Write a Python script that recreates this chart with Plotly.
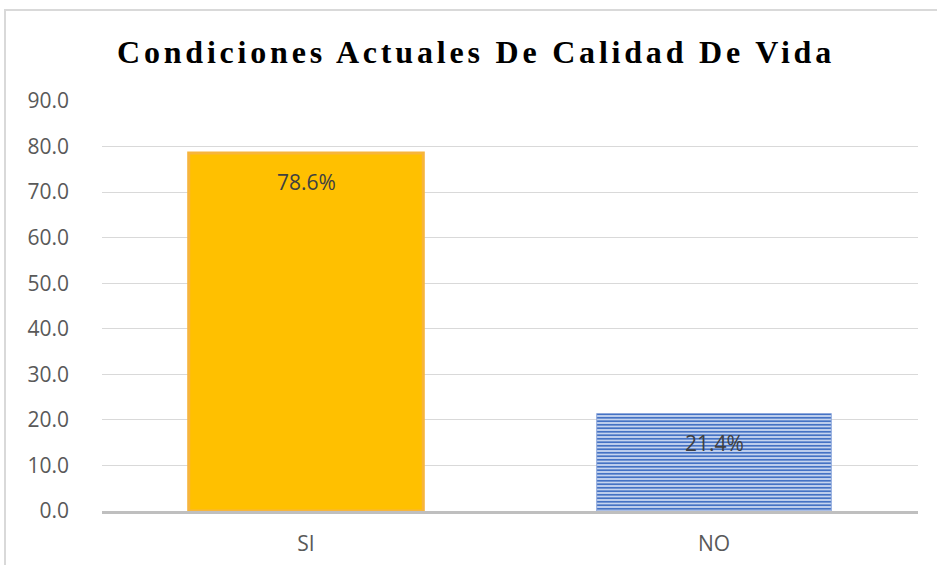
import plotly.graph_objects as go

# Survey result: current quality-of-life conditions
categories = ["SI", "NO"]
values = [78.6, 21.4]
label_texts = ["78.6%", "21.4%"]
y_ticks = [0, 10, 20, 30, 40, 50, 60, 70, 80, 90]

title_text = "Condiciones Actuales De Calidad De Vida"

W, H = 937, 565
ML, MR, MT, MB = 102, 19, 101, 54

fig = go.Figure()

# "SI" bar: solid gold with a soft orange rim
fig.add_trace(go.Bar(
    x=[categories[0]], y=[values[0]],
    marker=dict(color="#FFC000", line=dict(color="#F7B53C", width=3)),
    hoverinfo="skip", showlegend=False,
))

# "NO" bar: blue horizontal stripe fill
fig.add_trace(go.Bar(
    x=[categories[1]], y=[values[1]],
    marker=dict(
        color="#C5D4EF",
        line=dict(color="#8FA9DC", width=1),
        pattern=dict(shape="-", fgcolor="#4472C4", bgcolor="#C5D4EF",
                     size=3.5, solidity=0.5, fillmode="replace"),
    ),
    hoverinfo="skip", showlegend=False,
))

# value labels just below each bar's top
for cat, val, txt in zip(categories, values, label_texts):
    fig.add_annotation(
        x=cat, y=val, xref="x", yref="y",
        text=txt, showarrow=False,
        yanchor="middle", yshift=-29,
        font=dict(family="Open Sans", size=21, color="#404040"),
    )

# chart-area frame
fig.add_shape(
    type="rect", xref="paper", yref="paper",
    x0=(5 - ML) / (W - ML - MR), x1=1.2,
    y0=-0.3, y1=(H - MB - 10) / (H - MT - MB),
    line=dict(color="#D9D9D9", width=2), fillcolor="rgba(0,0,0,0)",
    layer="below",
)

fig.update_layout(
    width=W, height=H,
    margin=dict(l=ML, r=MR, t=MT, b=MB, autoexpand=False),
    paper_bgcolor="white", plot_bgcolor="white",
    bargap=0.425,
    barmode="overlay",
    title=dict(
        text='<span style="letter-spacing:3.8px">' + title_text + "</span>",
        x=(476 - ML) / (W - ML - MR), xref="paper", xanchor="center",
        y=1 - 52 / H, yref="container", yanchor="middle",
        font=dict(family="Liberation Serif", size=32, color="#000000", weight="bold"),
    ),
    xaxis=dict(
        type="category",
        categoryorder="array", categoryarray=categories,
        showgrid=False, zeroline=False,
        showline=True, linecolor="#BFBFBF", linewidth=3,
        ticks="", ticklabelstandoff=12, automargin=False,
        tickfont=dict(family="Open Sans", size=21, color="#595959"),
    ),
    yaxis=dict(
        range=[0, 90],
        tickvals=y_ticks,
        ticktext=[f"{v:.1f}" for v in y_ticks],
        showgrid=True, gridcolor="#D9D9D9", gridwidth=1,
        zeroline=False, showline=False,
        ticks="", ticklabelstandoff=32, automargin=False,
        tickfont=dict(family="Open Sans", size=21, color="#595959"),
    ),
)

fig.write_html("out.html")
